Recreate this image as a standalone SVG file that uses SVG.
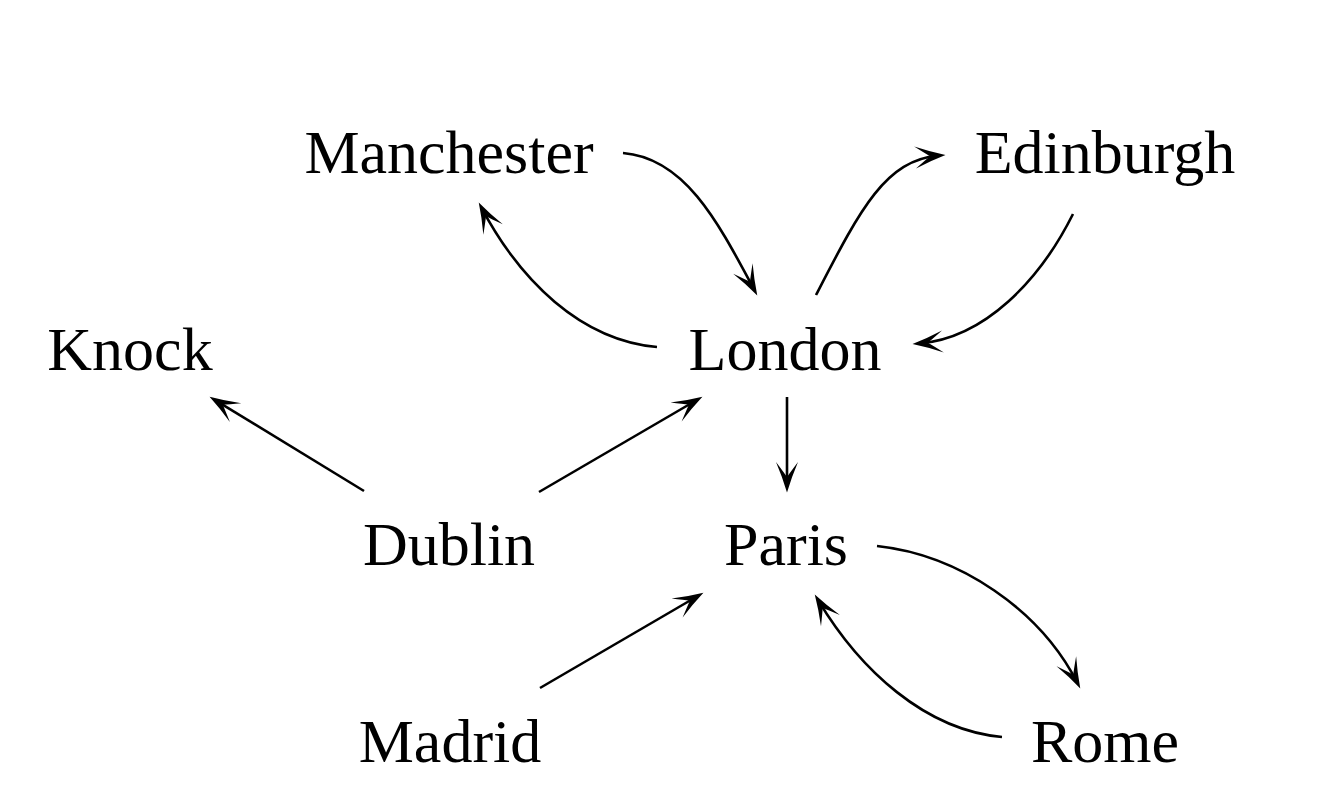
<svg xmlns="http://www.w3.org/2000/svg" width="1319" height="797" viewBox="0 0 1319 797">
<style>
text{font-family:"Liberation Serif","Times New Roman",serif;font-size:62px;fill:#000;text-anchor:middle}
.e{fill:none;stroke:#000;stroke-width:2.6;marker-end:url(#ah)}
</style>
<defs>
<marker id="ah" markerUnits="userSpaceOnUse" viewBox="-31 -12 32 24" markerWidth="32" markerHeight="24" refX="-6" refY="0" orient="auto">
<path d="M0.5,0 Q-15,-4.6 -30,-11 Q-20,-3.5 -15,0 Q-20,3.5 -30,11 Q-15,4.6 0.5,0 Z" fill="#000"/>
</marker>
</defs>
<rect width="1319" height="797" fill="#fff"/>
<g id="connectors">
<path class="e" d="M623,153 C685,158 718,222 754.2,289.7"/>
<path class="e" d="M657,347 C580,340 520,280 481.8,208.3"/>
<path class="e" d="M816,295 C860,210 885,160 939,155.5"/>
<path class="e" d="M1073,214 C1040,280 985,338 919,343.5"/>
<path class="e" d="M787,397 L787,486"/>
<path class="e" d="M364,491 L215.1,400.1"/>
<path class="e" d="M539,492 L696.8,400"/>
<path class="e" d="M540,688 L697.8,596"/>
<path class="e" d="M877,546 C960,555 1040,610 1077.3,682.7"/>
<path class="e" d="M1002,737 C925,730 860,670 818.1,600.1"/>
</g>
<g id="manchester"><text x="449" y="173">Manchester</text></g>
<g id="edinburgh"><text x="1105" y="173">Edinburgh</text></g>
<g id="knock"><text x="130" y="370">Knock</text></g>
<g id="london"><text x="785" y="370">London</text></g>
<g id="dublin"><text x="449" y="565">Dublin</text></g>
<g id="paris"><text x="786" y="565">Paris</text></g>
<g id="madrid"><text x="450" y="762">Madrid</text></g>
<g id="rome"><text x="1105" y="762">Rome</text></g>
</svg>
